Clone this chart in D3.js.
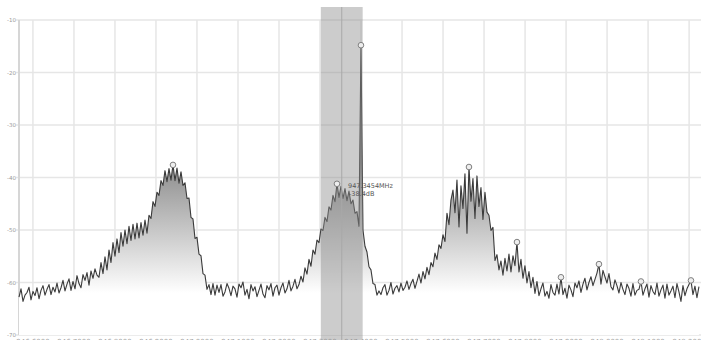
<!DOCTYPE html>
<html>
<head>
<meta charset="utf-8">
<script src="https://cdn.jsdelivr.net/npm/d3@7"></script>
<style>
  html, body { margin: 0; padding: 0; background: #fff; }
  svg { display: block; font-family: "DejaVu Sans", Arial, sans-serif; }
</style>
</head>
<body>
<svg id="chart" width="701" height="340"></svg>
<script>
// Sweep: 341 evenly spaced points, levels in dB
const sweepStartMHz = 946.566;
const sweepStopMHz = 948.224;
const levelsDb = [
  -62.8,-61.2,-63.6,-62.4,-61.9,-60.9,-63.3,-61.7,-62.5,-61.0,
  -63.1,-61.5,-60.6,-62.4,-61.3,-60.4,-62.3,-60.9,-61.8,-60.1,
  -62.0,-61.0,-59.6,-61.6,-60.3,-59.3,-61.5,-59.8,-61.2,-58.7,
  -60.2,-61.0,-58.5,-59.6,-58.1,-60.5,-57.8,-59.2,-57.4,-58.6,
  -59.0,-56.2,-58.3,-55.1,-57.6,-53.8,-56.2,-52.4,-55.0,-51.7,
  -54.3,-50.5,-53.1,-50.0,-52.6,-49.3,-52.0,-48.9,-51.7,-48.7,
  -51.5,-48.6,-51.0,-48.1,-50.6,-47.2,-47.8,-44.6,-45.5,-42.8,
  -43.4,-40.6,-41.5,-38.7,-40.8,-38.3,-40.5,-37.6,-40.6,-38.2,
  -41.1,-38.9,-41.5,-41.0,-44.0,-43.9,-47.6,-47.9,-51.6,-51.4,
  -54.6,-54.9,-58.3,-58.6,-61.3,-60.4,-62.3,-60.2,-62.4,-60.5,
  -61.9,-60.4,-62.6,-61.8,-60.2,-61.1,-62.5,-60.7,-61.2,-62.8,
  -60.3,-61.0,-59.9,-62.4,-61.3,-63.1,-60.4,-61.6,-60.8,-62.7,
  -61.5,-60.3,-62.2,-62.9,-60.6,-61.4,-60.2,-62.6,-61.0,-60.5,
  -62.4,-61.0,-60.1,-62.0,-61.2,-59.6,-61.6,-60.7,-59.4,-61.2,
  -60.4,-58.8,-59.9,-57.2,-58.4,-55.6,-56.9,-53.8,-54.6,-51.9,
  -52.4,-49.8,-50.1,-47.6,-48.4,-45.6,-46.2,-43.4,-44.6,-41.2,
  -43.8,-41.7,-44.0,-42.1,-44.4,-42.6,-45.0,-44.3,-46.8,-46.5,
  -49.3,-14.8,-50.0,-53.1,-54.2,-57.0,-57.6,-60.2,-60.4,-62.4,
  -61.6,-62.3,-61.0,-60.4,-62.4,-61.5,-60.0,-62.2,-61.1,-60.6,
  -61.8,-60.1,-61.5,-60.9,-59.7,-61.3,-60.2,-59.4,-61.1,-59.8,
  -58.4,-60.1,-57.9,-59.3,-57.1,-58.5,-56.2,-57.0,-54.4,-55.6,
  -52.8,-53.5,-50.9,-52.2,-46.8,-49.0,-44.3,-42.4,-46.7,-40.5,
  -49.4,-41.6,-45.9,-39.3,-50.6,-38.0,-44.5,-40.2,-47.8,-39.7,
  -45.5,-41.9,-48.0,-42.8,-46.6,-47.2,-50.1,-49.5,-55.8,-54.7,
  -57.6,-55.9,-58.6,-55.4,-57.8,-54.6,-58.0,-54.9,-56.8,-52.3,
  -58.0,-55.6,-59.2,-56.8,-60.1,-57.9,-61.0,-59.0,-62.1,-59.8,
  -62.5,-61.2,-60.1,-62.6,-61.7,-63.0,-60.4,-61.9,-62.4,-60.3,
  -62.2,-59.0,-62.3,-61.1,-63.0,-60.5,-61.4,-62.7,-60.1,-61.0,
  -59.7,-61.9,-60.3,-59.2,-61.4,-60.0,-58.9,-60.6,-59.4,-58.2,
  -56.5,-60.3,-57.7,-58.9,-60.1,-58.3,-60.8,-61.4,-59.5,-60.6,
  -62.0,-60.0,-61.3,-62.3,-60.3,-61.1,-62.6,-60.2,-62.4,-61.5,
  -61.3,-59.8,-62.4,-61.2,-60.3,-62.8,-60.6,-61.7,-62.3,-60.1,
  -62.6,-61.4,-60.5,-63.0,-60.3,-62.4,-61.6,-60.7,-62.9,-60.2,
  -61.8,-63.6,-60.6,-62.5,-61.2,-60.4,-59.6,-62.3,-60.7,-62.9,
  -60.8
];
// Sweep indices flagged as peak markers
const peakMarkerIdx = [77, 159, 171, 225, 249, 271, 290, 311, 336];

// Axis ticks
const levelTicksDb = [-10, -20, -30, -40, -50, -60, -70];
const freqTicksMHz = [946.6, 946.7, 946.8, 946.9, 947.0, 947.1, 947.2, 947.3, 947.4,
                      947.5, 947.6, 947.7, 947.8, 947.9, 948.0, 948.1, 948.2];

// Channel window and its readout
const channelLowMHz = 947.302;
const channelHighMHz = 947.404;
const channelCenterMHz = 947.353;
const readoutFreqMHz = 947.3454;
const readoutLevelDb = -38.4;

const svg = d3.select("#chart");
const plot = { left: 19, right: 701, top: 20, bottom: 335 };

const x = d3.scaleLinear().domain([946.566, 948.229]).range([plot.left, plot.right]);
const y = d3.scaleLinear().domain([-70, -10]).range([plot.bottom, plot.top]);

const stepMHz = (sweepStopMHz - sweepStartMHz) / (levelsDb.length - 1);
const trace = levelsDb.map((db, i) => ({ f: sweepStartMHz + i * stepMHz, db }));

// gradient under the trace
const defs = svg.append("defs");
const grad = defs.append("linearGradient")
  .attr("id", "under").attr("gradientUnits", "userSpaceOnUse")
  .attr("x1", 0).attr("x2", 0).attr("y1", y(-37)).attr("y2", y(-62));
grad.append("stop").attr("offset", 0).attr("stop-color", "#8a8a8a");
grad.append("stop").attr("offset", 1).attr("stop-color", "#ffffff");

// grid
const grid = svg.append("g");
grid.selectAll("line.h").data(levelTicksDb).join("line")
  .attr("x1", plot.left - 3).attr("x2", plot.right)
  .attr("y1", d => y(d)).attr("y2", d => y(d))
  .attr("stroke", "#e6e6e6").attr("stroke-width", 1.5);
grid.selectAll("line.v").data(freqTicksMHz).join("line")
  .attr("x1", d => x(d)).attr("x2", d => x(d))
  .attr("y1", plot.top).attr("y2", plot.bottom)
  .attr("stroke", "#e6e6e6").attr("stroke-width", 1.5);

// left axis line
svg.append("line")
  .attr("x1", plot.left).attr("x2", plot.left)
  .attr("y1", plot.top).attr("y2", plot.bottom)
  .attr("stroke", "#d6d6d6").attr("stroke-width", 2);

// y labels
svg.append("g").selectAll("text").data(levelTicksDb).join("text")
  .attr("x", plot.left - 3).attr("y", d => y(d) + 2)
  .attr("text-anchor", "end")
  .attr("font-size", 5.5).attr("fill", "#9a9a9a")
  .text(d => d);

// x labels (sit on the bottom edge)
svg.append("g").selectAll("text").data(freqTicksMHz).join("text")
  .attr("x", d => x(d)).attr("y", plot.bottom + 9)
  .attr("text-anchor", "middle")
  .attr("font-size", 7).attr("fill", "#a0a0a0")
  .text(d => d.toFixed(4));

// area + line
const area = d3.area().x(d => x(d.f)).y0(plot.bottom).y1(d => y(d.db));
const line = d3.line().x(d => x(d.f)).y(d => y(d.db));

svg.append("path").datum(trace).attr("d", area).attr("fill", "url(#under)");
svg.append("path").datum(trace).attr("d", line)
  .attr("fill", "none").attr("stroke", "#3a3a3a").attr("stroke-width", 1.1)
  .attr("stroke-linejoin", "round");

// channel window
svg.append("rect")
  .attr("x", x(channelLowMHz)).attr("width", x(channelHighMHz) - x(channelLowMHz))
  .attr("y", 7).attr("height", 340 - 7)
  .attr("fill", "#8f8f8f").attr("fill-opacity", 0.45);
svg.append("line")
  .attr("x1", x(channelCenterMHz)).attr("x2", x(channelCenterMHz))
  .attr("y1", 7).attr("y2", 340)
  .attr("stroke", "#a8a8a8").attr("stroke-width", 1);

// peak markers
svg.append("g").selectAll("circle").data(peakMarkerIdx.map(i => trace[i])).join("circle")
  .attr("cx", d => x(d.f)).attr("cy", d => y(d.db)).attr("r", 2.8)
  .attr("fill", "#eeeeee").attr("stroke", "#808080").attr("stroke-width", 1);

// readout
const ro = svg.append("g").attr("font-size", 6.5).attr("fill", "#555");
ro.append("text").attr("x", 348).attr("y", 188).text(readoutFreqMHz.toFixed(4) + "MHz");
ro.append("text").attr("x", 349).attr("y", 196).text(readoutLevelDb.toFixed(1) + "dB");
</script>
</body>
</html>
